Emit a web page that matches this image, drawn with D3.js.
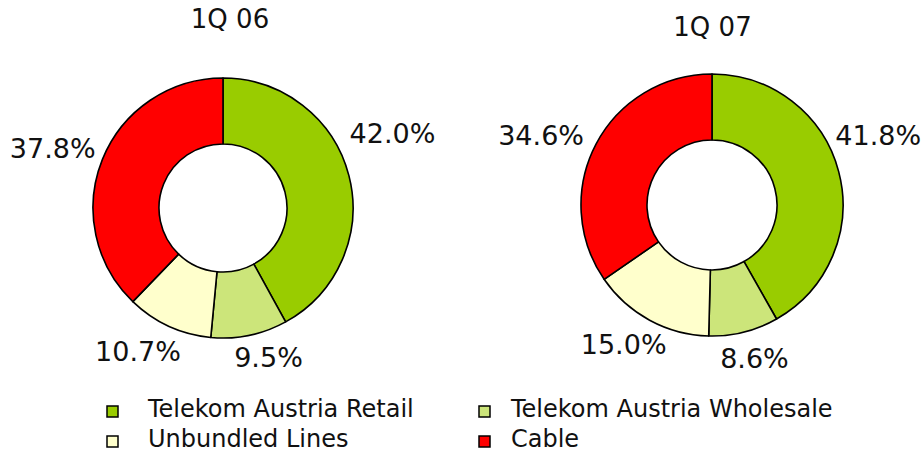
<!DOCTYPE html>
<html>
<head>
<meta charset="utf-8">
<script src="https://cdn.jsdelivr.net/npm/d3@7"></script>
<style>
  html, body { margin: 0; padding: 0; background: #fff; }
  svg { display: block; }
  text { font-family: "DejaVu Sans", Verdana, sans-serif; fill: #111; }
</style>
</head>
<body>
<svg id="chart" width="922" height="455"></svg>
<script>
// ---- data ----
const categories = ["Telekom Austria Retail", "Telekom Austria Wholesale", "Unbundled Lines", "Cable"];
const periods = ["1Q 06", "1Q 07"];
const values1Q06 = [42.0, 9.5, 10.7, 37.8];
const values1Q07 = [41.8, 8.6, 15.0, 34.6];
const seriesValues = [values1Q06, values1Q07];

// ---- layout / style ----
const colors = ["#99CC00", "#CCE57A", "#FFFFCC", "#FF0000"];
const donuts = [
  { cx: 223, cy: 208, outer: 130, inner: 64, titleDx: 7, titleDy: -180,
    nudges: [[0, -31], [10, -22], [-12, -16], [-8, 6]] },
  { cx: 712, cy: 205, outer: 131, inner: 65, titleDx: 0.5, titleDy: -169,
    nudges: [[-3, -25], [0, -17], [-5, -15], [-16, 12]] }
];
const labelR = 175;

const svg = d3.select("#chart");
const color = d3.scaleOrdinal().domain(categories).range(colors);
const pie = d3.pie().sort(null).value(d => d.value);
const fmt = d => d3.format(".1f")(d) + "%";

donuts.forEach((cfg, i) => {
  const data = categories.map((c, k) => ({ cat: c, value: seriesValues[i][k] }));
  const arcs = pie(data);
  const arc = d3.arc().innerRadius(cfg.inner).outerRadius(cfg.outer);
  const labelArc = d3.arc().innerRadius(labelR).outerRadius(labelR);

  const g = svg.append("g").attr("transform", `translate(${cfg.cx},${cfg.cy})`);

  g.selectAll("path.slice")
    .data(arcs)
    .join("path")
    .attr("class", "slice")
    .attr("d", arc)
    .attr("fill", d => color(d.data.cat))
    .attr("stroke", "#000")
    .attr("stroke-width", 1.6)
    .attr("stroke-linejoin", "round");

  g.selectAll("text.pct")
    .data(arcs)
    .join("text")
    .attr("class", "pct")
    .attr("transform", (d, k) => {
      const [x, y] = labelArc.centroid(d);
      return `translate(${x + cfg.nudges[k][0]},${y + cfg.nudges[k][1]})`;
    })
    .attr("dy", "0.36em")
    .attr("text-anchor", "middle")
    .style("font-size", "27px")
    .text(d => fmt(d.data.value));

  g.append("text")
    .attr("x", cfg.titleDx)
    .attr("y", cfg.titleDy)
    .attr("text-anchor", "middle")
    .style("font-size", "26px")
    .text(periods[i]);
});

// ---- legend ----
const legendCols = [107, 479];
const legendTextX = [148, 511];
const legendRows = [406, 436];
const sq = 11;
const legend = svg.append("g");
categories.forEach((c, k) => {
  const col = k % 2, row = Math.floor(k / 2);
  legend.append("rect")
    .attr("x", legendCols[col])
    .attr("y", legendRows[row])
    .attr("width", sq)
    .attr("height", sq)
    .attr("fill", color(c))
    .attr("stroke", "#000")
    .attr("stroke-width", 1.5);
  legend.append("text")
    .attr("x", legendTextX[col])
    .attr("y", legendRows[row] + 11)
    .style("font-size", "24px")
    .text(c);
});
</script>
</body>
</html>
